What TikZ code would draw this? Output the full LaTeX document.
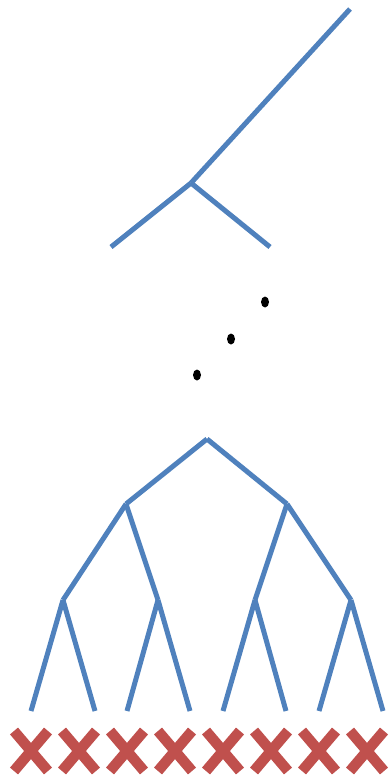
\documentclass[tikz,border=0pt]{standalone}
\definecolor{treeblue}{HTML}{4F81BD}
\definecolor{crossred}{HTML}{C0504D}
\tikzset{
  branch/.style={draw=treeblue, line width=5pt},
  dotmark/.style={fill=black},
  crossarm/.style={draw=crossred, line width=10.5pt},
}
\begin{document}
\begin{tikzpicture}[x=1pt,y=-1pt]
\useasboundingbox (0,0) rectangle (388,778);
% top partial tree
\coordinate (t0) at (350,9);
\coordinate (t1) at (191,183);
\coordinate (tl) at (111,247);
\coordinate (tr) at (270,247);
\draw[branch] (t0) -- (t1);
\draw[branch] (t1) -- (tl);
\draw[branch] (t1) -- (tr);
% dots
\fill[dotmark] (265,302) ellipse [x radius=4, y radius=5.5];
\fill[dotmark] (231,339) ellipse [x radius=4, y radius=5.5];
\fill[dotmark] (197,375) ellipse [x radius=4, y radius=5.5];
% full tree
\coordinate (r) at (207,439);
\coordinate (a) at (126,504);
\coordinate (b) at (287,504);
\coordinate (aa) at (63,600);
\coordinate (ab) at (158,600);
\coordinate (ba) at (255,600);
\coordinate (bb) at (351,600);
\coordinate (l1) at (31,711);
\coordinate (l2) at (95,711);
\coordinate (l3) at (127,711);
\coordinate (l4) at (190,711);
\coordinate (l5) at (223,711);
\coordinate (l6) at (286,711);
\coordinate (l7) at (319,711);
\coordinate (l8) at (383,711);
\draw[branch] (r) -- (a);
\draw[branch] (r) -- (b);
\draw[branch] (a) -- (aa);
\draw[branch] (a) -- (ab);
\draw[branch] (b) -- (ba);
\draw[branch] (b) -- (bb);
\draw[branch] (aa) -- (l1);
\draw[branch] (aa) -- (l2);
\draw[branch] (ab) -- (l3);
\draw[branch] (ab) -- (l4);
\draw[branch] (ba) -- (l5);
\draw[branch] (ba) -- (l6);
\draw[branch] (bb) -- (l7);
\draw[branch] (bb) -- (l8);
% crosses
\foreach \cx in {31,79,127,175,223,271,319,367}{
  \draw[crossarm] (\cx-17,751-20) -- (\cx+17,751+20);
  \draw[crossarm] (\cx-17,751+20) -- (\cx+17,751-20);
}
\end{tikzpicture}
\end{document}
